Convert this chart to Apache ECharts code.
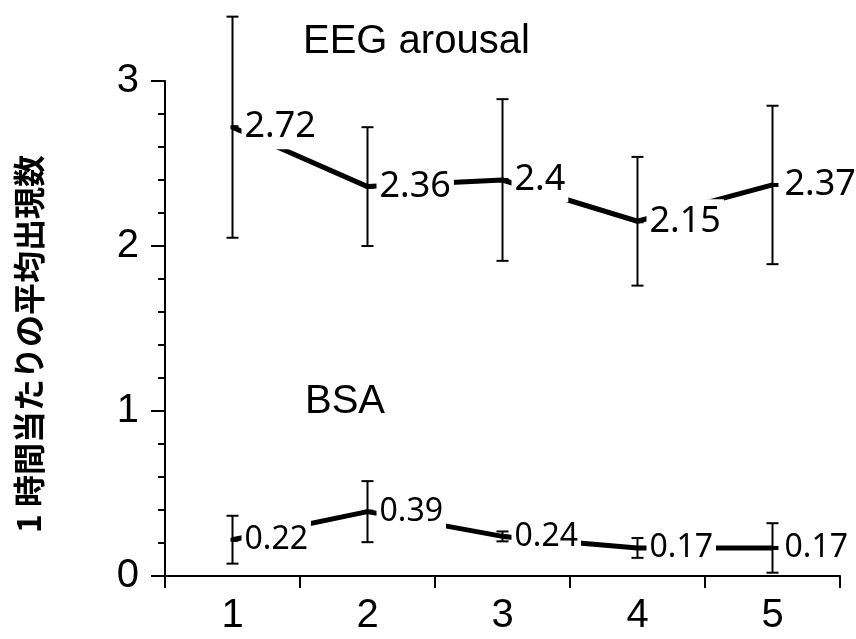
<!DOCTYPE html>
<html>
<head>
<meta charset="utf-8">
<script src="https://cdn.jsdelivr.net/npm/echarts@6/dist/echarts.min.js"></script>
<style>
html, body { margin: 0; background: #fff; }
#chart { width: 856px; height: 639px; }
</style>
</head>
<body>
<div id="chart"></div>
<script>
// 時間帯ごとの平均出現数（平均 ± SD）
const categories = ['1', '2', '3', '4', '5'];
const eegMean = [2.72, 2.36, 2.4, 2.15, 2.37];
const eegErr = [0.67, 0.36, 0.49, 0.39, 0.48];
const bsaMean = [0.22, 0.39, 0.24, 0.17, 0.17];
const bsaErr = [0.145, 0.185, 0.03, 0.06, 0.15];
const yTicks = [0, 1, 2, 3];

function errData(mean, err) {
    return mean.map((m, i) => [i, m - err[i], m + err[i]]);
}

// エラーバー（縦線＋上下のキャップ）
function renderErr(params, api) {
    const low = api.coord([api.value(0), api.value(1)]);
    const high = api.coord([api.value(0), api.value(2)]);
    const cap = 6;
    const style = { stroke: '#000', lineWidth: 2 };
    return {
        type: 'group',
        children: [
            { type: 'line', shape: { x1: low[0], y1: low[1], x2: high[0], y2: high[1] }, style },
            { type: 'line', shape: { x1: low[0] - cap, y1: low[1], x2: low[0] + cap, y2: low[1] }, style },
            { type: 'line', shape: { x1: high[0] - cap, y1: high[1], x2: high[0] + cap, y2: high[1] }, style }
        ]
    };
}

function meanSeries(name, data, fontSize) {
    return {
        name: name,
        type: 'line',
        data: data,
        z: 3,
        symbol: 'rect',
        symbolSize: [8, 4],
        symbolOffset: [2, 0],
        lineStyle: { color: '#000', width: 5 },
        itemStyle: { color: '#000' },
        label: {
            show: true,
            position: 'right',
            distance: 3,
            color: '#000',
            fontFamily: 'Noto Sans',
            fontSize: fontSize,
            lineHeight: fontSize,
            backgroundColor: '#fff',
            padding: [3, 3, 5, 3]
        }
    };
}

const chart = echarts.init(document.getElementById('chart'));
const option = {
    animation: false,
    backgroundColor: '#fff',
    grid: { left: 165, right: 16, top: 81, bottom: 63 },
    xAxis: {
        type: 'category',
        data: categories,
        boundaryGap: true,
        axisLine: { lineStyle: { color: '#000', width: 2 } },
        axisTick: { show: true, length: 12, lineStyle: { color: '#000', width: 2 } },
        axisLabel: { color: '#000', fontSize: 40, fontFamily: 'Liberation Sans', margin: 20 }
    },
    yAxis: {
        type: 'value',
        min: yTicks[0],
        max: yTicks[yTicks.length - 1],
        interval: 1,
        axisLine: { show: true, lineStyle: { color: '#000', width: 2 } },
        axisTick: { show: true, length: 14, lineStyle: { color: '#000', width: 2 } },
        minorTick: { show: true, splitNumber: 5, length: 7, lineStyle: { color: '#000', width: 2 } },
        splitLine: { show: false },
        axisLabel: { color: '#000', fontSize: 40, fontFamily: 'Liberation Sans', margin: 26 }
    },
    graphic: [
        {
            type: 'text', left: 303, top: 22,
            style: { text: 'EEG arousal', fill: '#000', font: '40px "Liberation Sans"' }
        },
        {
            type: 'text', left: 305, top: 382,
            style: { text: 'BSA', fill: '#000', font: '40px "Liberation Sans"' }
        },
        {
            type: 'text', x: 29, y: 344, rotation: Math.PI / 2,
            style: {
                text: '1 時間当たりの平均出現数', fill: '#000',
                font: 'bold 32px "Noto Sans CJK JP"',
                align: 'center', verticalAlign: 'middle'
            }
        }
    ],
    series: [
        {
            type: 'custom',
            renderItem: renderErr,
            data: errData(eegMean, eegErr),
            clip: false,
            z: 2
        },
        {
            type: 'custom',
            renderItem: renderErr,
            data: errData(bsaMean, bsaErr),
            clip: false,
            z: 2
        },
        meanSeries('EEG arousal', eegMean, 36),
        meanSeries('BSA', bsaMean, 32)
    ]
};
chart.setOption(option);
</script>
</body>
</html>
